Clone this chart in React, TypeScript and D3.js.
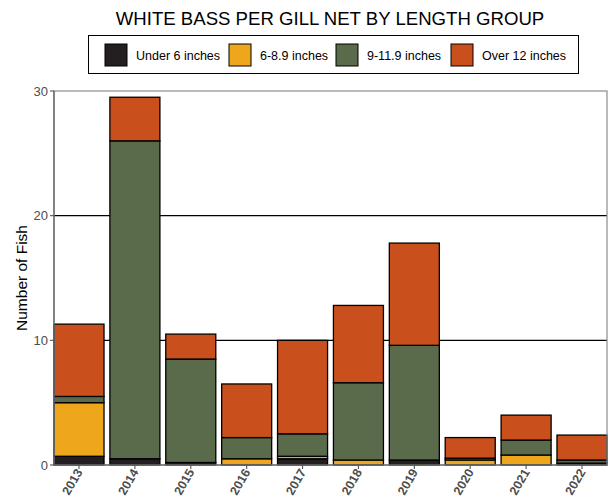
import React from "react";
import * as d3 from "d3";

const years = ["2013","2014","2015","2016","2017","2018","2019","2020","2021","2022"];
const under6 = [0.7, 0.5, 0.2, 0, 0.5, 0, 0.4, 0, 0, 0.15];
const six8 = [4.3, 0, 0, 0.5, 0.2, 0.4, 0, 0.4, 0.8, 0];
const nine11 = [0.5, 25.5, 8.3, 1.7, 1.8, 6.2, 9.2, 0.15, 1.2, 0.25];
const over12 = [5.8, 3.5, 2.0, 4.3, 7.5, 6.2, 8.2, 1.65, 2.0, 2.0];
const seriesNames = ["Under 6 inches", "6-8.9 inches", "9-11.9 inches", "Over 12 inches"];
const seriesColors = ["#231f20", "#eea71c", "#596b4b", "#c9501c"];
const yTicks = [0, 10, 20, 30];

const W = 616, H = 502;
const L = 54, R = 607, T = 91, B = 465;

export default function App() {
  const x = d3.scaleBand<string>().domain(years).range([L, R]).paddingInner(0.105).paddingOuter(0);
  const y = d3.scaleLinear().domain([0, 30]).range([B, T]);
  const rows = years.map((yr, i) => ({ year: yr, s0: under6[i], s1: six8[i], s2: nine11[i], s3: over12[i] }));
  const stack = d3.stack<any>().keys(["s0", "s1", "s2", "s3"])(rows);
  const font = "'Liberation Sans', Arial, sans-serif";
  const legendX = [105, 229, 336, 451];

  return (
    <svg width={W} height={H} style={{ position: "absolute", left: 0, top: 0 }} fontFamily={font}>
      <rect x={0} y={0} width={W} height={H} fill="white" />
      <text x={330} y={25} textAnchor="middle" fontSize={18.6} fill="#000">WHITE BASS PER GILL NET BY LENGTH GROUP</text>
      {/* legend */}
      <rect x={88.5} y={35.5} width={490} height={38} fill="white" stroke="#000" strokeWidth={1} />
      {seriesNames.map((n, i) => (
        <g key={n}>
          <rect x={legendX[i]} y={44} width={22} height={22} fill={seriesColors[i]} stroke="#000" strokeWidth={1} />
          <text x={legendX[i] + 31} y={60} fontSize={12.5} fill="#000">{n}</text>
        </g>
      ))}
      {/* gridlines */}
      {yTicks.filter(t => t > 0 && t < 30).map(t => (
        <line key={t} x1={L} x2={R} y1={y(t)} y2={y(t)} stroke="#000" strokeWidth={1.2} />
      ))}
      {/* bars */}
      {stack.map((layer, si) => (
        <g key={si}>
          {layer.map((d, i) => {
            const h = y(d[0]) - y(d[1]);
            if (h <= 0) return null;
            return (
              <rect key={i} x={x(years[i])!} y={y(d[1])} width={x.bandwidth()} height={h}
                fill={seriesColors[si]} stroke="#000" strokeWidth={1.3} />
            );
          })}
        </g>
      ))}
      {/* panel border */}
      <rect x={L} y={T} width={R - L} height={B - T} fill="none" stroke="#8c8c8c" strokeWidth={1.2} />
      <line x1={L} x2={L} y1={T} y2={B} stroke="#555" strokeWidth={1.1} />
      <line x1={L} x2={R} y1={B} y2={B} stroke="#555" strokeWidth={1.1} />
      {/* y axis */}
      {yTicks.map(t => (
        <g key={t}>
          <line x1={L - 4} x2={L} y1={y(t)} y2={y(t)} stroke="#555" strokeWidth={1.1} />
          <text x={L - 6} y={y(t) + 4.5} textAnchor="end" fontSize={13} fill="#4d4d4d">{t}</text>
        </g>
      ))}
      <text transform={`translate(27,${(T + B) / 2}) rotate(-90)`} textAnchor="middle" fontSize={15.5} fill="#000">Number of Fish</text>
      {/* x axis */}
      {years.map(yr => {
        const cx = x(yr)! + x.bandwidth() / 2;
        return (
          <g key={yr}>
            <line x1={cx} x2={cx} y1={B} y2={B + 4} stroke="#555" strokeWidth={1.1} />
            <text transform={`translate(${cx + 4},${B + 7}) rotate(-60)`} textAnchor="end" fontSize={12.5} fontWeight="bold" fill="#4d4d4d">{yr}</text>
          </g>
        );
      })}
    </svg>
  );
}
